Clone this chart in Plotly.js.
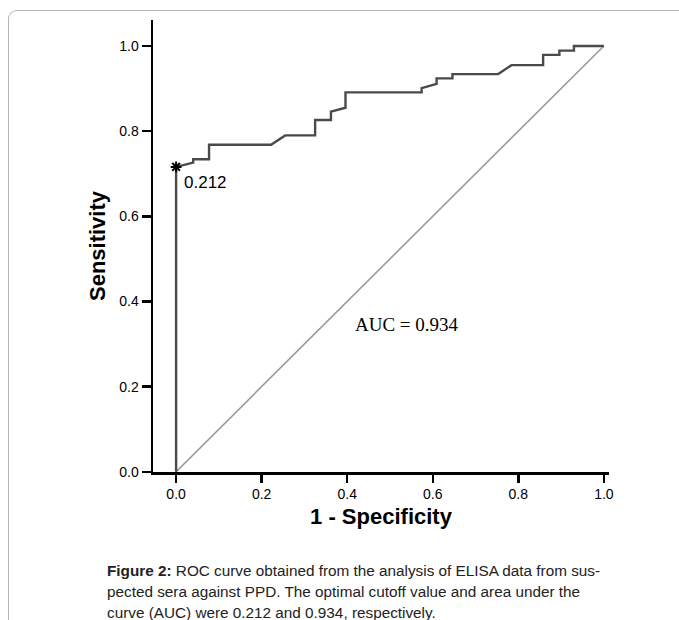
<!DOCTYPE html>
<html>
<head>
<meta charset="utf-8">
<script src="https://cdn.plot.ly/plotly-3.0.1.min.js"></script>
<style>
  html, body { margin:0; padding:0; background:#fff; }
  #wrap { position:relative; width:679px; height:620px; overflow:hidden; }
  #chart { width:679px; height:620px; }
  #frame { position:absolute; left:8px; top:10px; width:700px; height:640px;
           border-top:1px solid #b5b5b5; border-left:1px solid #b5b5b5;
           border-top-left-radius:9px; pointer-events:none; }
</style>
</head>
<body>
<div id="wrap">
  <div id="chart"></div>
  <div id="frame"></div>
</div>
<script>
// ROC curve (1 - specificity, sensitivity)
const fpr = [0, 0, 0.040, 0.040, 0.077, 0.077, 0.222, 0.255, 0.325, 0.325, 0.362, 0.362, 0.396, 0.396,
             0.574, 0.574, 0.609, 0.609, 0.646, 0.646, 0.753, 0.784, 0.858, 0.858, 0.896, 0.896, 0.930, 0.930, 1.0];
const tpr = [0, 0.716, 0.726, 0.734, 0.734, 0.768, 0.768, 0.790, 0.790, 0.826, 0.826, 0.846, 0.855, 0.891,
             0.891, 0.901, 0.911, 0.924, 0.924, 0.934, 0.934, 0.955, 0.955, 0.979, 0.979, 0.989, 0.989, 1.0, 1.0];
const refX = [0, 1];
const refY = [0, 1];
const cutoffX = [0];
const cutoffY = [0.716];
const cutoffLabel = "0.212";
const aucLabel = "AUC = 0.934";
const tickVals = [0, 0.2, 0.4, 0.6, 0.8, 1.0];
const tickText = ["0.0", "0.2", "0.4", "0.6", "0.8", "1.0"];
const captionLines = [
  "<b>Figure 2:</b> ROC curve obtained from the analysis of ELISA data from sus-",
  "pected sera against PPD. The optimal cutoff value and area under the",
  "curve (AUC) were 0.212 and 0.934, respectively."
];

const traces = [
  { x: refX, y: refY, mode: "lines", line: { color: "#9a9a9a", width: 1.6 }, hoverinfo: "skip" },
  { x: fpr, y: tpr, mode: "lines", line: { color: "#4a4a4a", width: 2.4 }, hoverinfo: "skip" },
  { x: cutoffX, y: cutoffY, mode: "markers",
    marker: { symbol: "asterisk-open", size: 9, color: "#000", line: { color: "#000", width: 2 } }, hoverinfo: "skip" }
];

const axisCommon = {
  showline: true, linecolor: "#000", linewidth: 2.5, mirror: false,
  showgrid: false, zeroline: false,
  ticks: "outside", tickcolor: "#000", tickwidth: 2.5,
  tickvals: tickVals, ticktext: tickText,
  tickfont: { family: "Liberation Sans, Arial, sans-serif", size: 14, color: "#000" },
  fixedrange: true
};

const annotations = [
  { x: cutoffX[0], y: cutoffY[0], xref: "x", yref: "y", text: cutoffLabel, showarrow: false,
    xanchor: "left", yanchor: "middle", xshift: 6, yshift: -16,
    font: { family: "Liberation Sans, Arial, sans-serif", size: 17, color: "#000" } },
  { x: 0.539, y: 0.345, xref: "x", yref: "y", text: aucLabel, showarrow: false,
    xanchor: "center", yanchor: "middle",
    font: { family: "Liberation Serif, Times New Roman, serif", size: 19, color: "#000" } }
];
const capTop = [570, 591, 612];
captionLines.forEach((t, i) => {
  annotations.push({
    xref: "paper", yref: "paper",
    x: (105 - 153) / 456, y: (472 - capTop[i]) / 452,
    xanchor: "left", yanchor: "middle", showarrow: false, align: "left",
    text: t,
    font: { family: "Liberation Sans, Arial, sans-serif", size: 15.3, color: "#222" }
  });
});

const layout = {
  width: 679, height: 620,
  margin: { l: 153, r: 70, t: 20, b: 148 },
  paper_bgcolor: "#fff", plot_bgcolor: "#fff",
  showlegend: false,
  xaxis: Object.assign({}, axisCommon, {
    range: [-0.054, 1.012], ticklen: 8,
    title: { text: "<b>1 - Specificity</b>", standoff: 8,
             font: { family: "Liberation Sans, Arial, sans-serif", size: 22, color: "#000" } }
  }),
  yaxis: Object.assign({}, axisCommon, {
    range: [-0.0005, 1.061], ticklen: 9,
    title: { text: "<b>Sensitivity</b>", standoff: 8,
             font: { family: "Liberation Sans, Arial, sans-serif", size: 22, color: "#000" } }
  }),
  annotations: annotations
};

Plotly.newPlot("chart", traces, layout, { displayModeBar: false, staticPlot: true });
</script>
</body>
</html>
